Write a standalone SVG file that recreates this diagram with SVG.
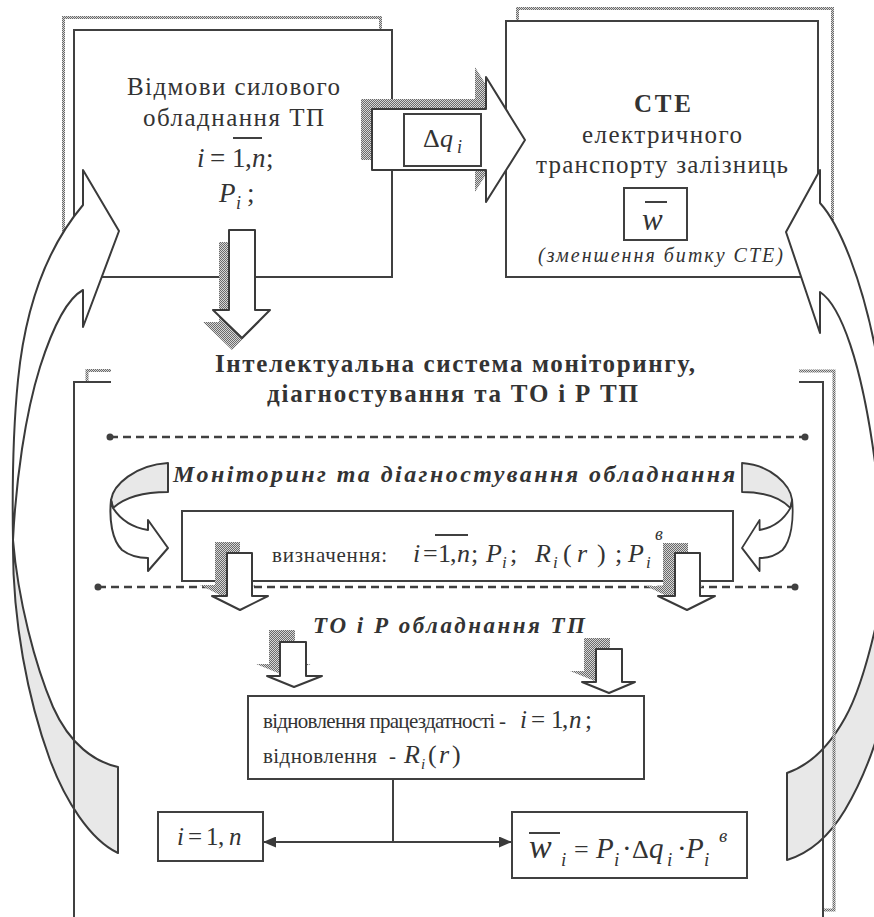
<svg xmlns="http://www.w3.org/2000/svg" width="874" height="917" viewBox="0 0 874 917" font-family="'Liberation Serif', 'Times New Roman', serif">
<defs>
<pattern id="dots" width="2" height="2" patternUnits="userSpaceOnUse">
<rect width="2" height="2" fill="#d6d6d6"/>
<rect width="1" height="1" fill="#6a6a6a"/>
<rect x="1" y="1" width="1" height="1" fill="#6a6a6a"/>
</pattern>
<marker id="ah" viewBox="0 0 13 11" refX="13" refY="5.5" markerWidth="13" markerHeight="11" markerUnits="userSpaceOnUse" orient="auto-start-reverse">
<path d="M0,0 L13,5.5 L0,11 Z" fill="#3a3a3a"/>
</marker>
</defs>
<style>
.ln{fill:none;stroke:#404040;stroke-width:2}
.box{fill:#fff;stroke:#404040;stroke-width:2}
.wa{fill:#fff;stroke:#3a3a3a;stroke-width:2;stroke-linejoin:round}
.ga{fill:#e8e8e8;stroke:#3a3a3a;stroke-width:2;stroke-linejoin:round}
.sh{fill:url(#dots);stroke:none}
.shl{fill:none;stroke:url(#dots);stroke-width:3}
.t{fill:#333}
.i{font-style:italic}
.b{font-weight:bold}
.dash{stroke:#404040;stroke-width:2.5;stroke-dasharray:8 5;fill:none}
.dot{fill:#404040}
</style>

<g id="node-failures">
<rect class="shl" x="63.5" y="17.5" width="317" height="250"/>
<rect class="box" x="74" y="30" width="318" height="247"/>
<text class="t" x="127" y="95" font-size="25" textLength="213">Відмови силового</text>
<text class="t" x="143" y="126" font-size="25" textLength="181">обладнання ТП</text>
<text class="t" y="167" font-size="27"><tspan class="i" x="197">i</tspan><tspan x="210">=</tspan><tspan x="232">1</tspan><tspan x="245">,</tspan><tspan class="i" x="252">n</tspan><tspan x="266">;</tspan></text>
<line class="ln" x1="233" y1="138" x2="262" y2="138"/>
<text class="t" y="202" font-size="27"><tspan class="i" x="219">P</tspan><tspan class="i" x="236" y="209" font-size="18">i</tspan><tspan x="247" y="202">;</tspan></text>
</g>

<g id="node-cte">
<rect class="shl" x="517.5" y="8.5" width="315" height="257"/>
<rect class="box" x="506" y="21" width="312" height="256"/>
<text class="t b" x="634" y="112" font-size="25" textLength="57">СТЕ</text>
<text class="t" x="582" y="143" font-size="25" textLength="160">електричного</text>
<text class="t" x="536" y="173" font-size="25" textLength="252">транспорту залізниць</text>
<rect class="box" x="624" y="188" width="63" height="52"/>
<text class="t i" x="642" y="230" font-size="31">w</text>
<line class="ln" x1="645" y1="202" x2="667" y2="202"/>
<text class="t i" x="538" y="262" font-size="20" textLength="245">(зменшення битку СТЕ)</text>
</g>

<g id="arrow-left-big">
<path class="ga" d="M13,540 C12,620 28,700 50,760 C65,800 90,840 118,853 L118,767 C95,762 70,745 53,707 C35,665 18,600 13,540 Z"/>
<path class="wa" d="M83,205 L83,170 L119,231 L83,327 L83,290 C70,297 55,320 40,367 C25,415 16,480 13,540 C12,480 13,430 18,380 C25,310 45,250 83,205 Z"/>
</g>
<g id="arrow-right-big">
<path class="ga" d="M876,625 C868,660 858,695 845,718 C830,745 810,765 787,773 L787,860 C810,853 830,835 845,810 C858,788 868,765 876,740 L900,740 L900,625 Z"/>
<path class="wa" d="M820,203 L820,170 L786,232 L820,333 L820,292 C840,305 862,360 876,470 L905,470 L905,360 L876,352 C862,280 840,225 820,203 Z"/>
</g>

<g id="node-dq">
<path class="sh" transform="translate(-11,-10)" d="M372,109 L486,109 L486,77 L525,140 L486,202 L486,170 L372,170 Z"/>
<path class="wa" d="M372,109 L486,109 L486,77 L525,140 L486,202 L486,170 L372,170 Z"/>
<rect class="box" x="404" y="114" width="77" height="52"/>
<text class="t" y="147" font-size="26"><tspan x="423">Δ</tspan><tspan class="i" x="440">q</tspan><tspan class="i" x="457" y="153" font-size="18">i</tspan></text>
</g>

<g id="frame">
<path class="shl" d="M87,382 V370.5 H111"/>
<path class="shl" d="M799,371 H834 V910 H823"/>
<path class="ln" d="M111,382 H74 V920"/>
<path class="ln" d="M799,382 H823 V920"/>
</g>

<g id="connectors">
<path class="sh" transform="translate(-10,12)" d="M229,230 L255,230 L255,310 L270,310 L242,338 L213,310 L229,310 Z"/>
<path class="wa" d="M229,230 L255,230 L255,310 L270,310 L242,338 L213,310 L229,310 Z"/>
<line class="dash" x1="110" y1="437" x2="805" y2="437"/>
<circle class="dot" cx="110" cy="437" r="3.5"/>
<circle class="dot" cx="805" cy="437" r="3.5"/>
<line class="dash" x1="98" y1="587" x2="795" y2="587"/>
<circle class="dot" cx="98" cy="587" r="3.5"/>
<circle class="dot" cx="795" cy="587" r="3.5"/>
</g>

<g id="title">
<text class="t b" x="215" y="372" font-size="25" textLength="480">Інтелектуальна система моніторингу,</text>
<text class="t b" x="267" y="402" font-size="25" textLength="371">діагностування та ТО і Р  ТП</text>
</g>

<g id="curl-left">
<path class="ga" d="M168,463 L168,492 C145,492 125,497 113,508 L111,500 C113,485 135,465 168,463 Z"/>
<path class="wa" d="M111,500 C109,520 112,540 122,550 C130,556 140,558 148,558 L148,571 L168,548 L148,520 L148,530 C135,528 122,522 113,508 Z"/>
</g>
<g id="curl-right" transform="matrix(-0.88,0,0,1,889.84,0)">
<path class="ga" d="M168,463 L168,492 C145,492 125,497 113,508 L111,500 C113,485 135,465 168,463 Z"/>
<path class="wa" d="M111,500 C109,520 112,540 122,550 C130,556 140,558 148,558 L148,571 L168,548 L148,520 L148,530 C135,528 122,522 113,508 Z"/>
</g>

<g id="monitoring">
<text class="t b i" x="173" y="482" font-size="24" textLength="562">Моніторинг  та  діагностування обладнання</text>
</g>

<g id="node-define">
<rect class="box" x="182" y="511" width="551" height="70"/>
<text class="t" x="272" y="562" font-size="21" textLength="115">визначення:</text>
<text class="t" y="562" font-size="26"><tspan class="i" x="413">i</tspan><tspan x="423">=</tspan><tspan x="438">1</tspan><tspan x="450">,</tspan><tspan class="i" x="457">n</tspan><tspan x="471">;</tspan><tspan class="i" x="486">P</tspan><tspan class="i" x="502" y="568" font-size="17">i</tspan><tspan x="510" y="562">;</tspan><tspan class="i" x="535">R</tspan><tspan class="i" x="553" y="568" font-size="17">i</tspan><tspan x="563" y="562">(</tspan><tspan class="i" x="577">r</tspan><tspan x="597">)</tspan><tspan x="615">;</tspan><tspan class="i" x="628">P</tspan><tspan class="i" x="646" y="568" font-size="17">i</tspan><tspan class="i" x="655" y="540" font-size="18">в</tspan></text>
<line class="ln" x1="435" y1="535" x2="468" y2="535"/>
</g>

<g id="small-arrows">
<path class="sh" transform="translate(-12,-11)" d="M227,553 L252,553 L252,596 L268,596 L240,610 L212,596 L227,596 Z"/>
<path class="wa" d="M227,553 L252,553 L252,596 L268,596 L240,610 L212,596 L227,596 Z"/>
<path class="sh" transform="translate(-12,-10)" d="M675,553 L700,553 L700,596 L715,596 L687,610 L658,596 L675,596 Z"/>
<path class="wa" d="M675,553 L700,553 L700,596 L715,596 L687,610 L658,596 L675,596 Z"/>
</g>

<g id="repair-title">
<text class="t b i" x="313" y="633" font-size="23" textLength="272">ТО і Р обладнання ТП</text>
</g>

<g id="repair-arrows">
<path class="sh" transform="translate(-11,-12)" d="M280,642 L306,642 L306,676 L322,676 L294,687 L267,676 L280,676 Z"/>
<path class="wa" d="M280,642 L306,642 L306,676 L322,676 L294,687 L267,676 L280,676 Z"/>
<path class="sh" transform="translate(-12,-11)" d="M596,649 L622,649 L622,682 L635,682 L609,693 L582,682 L596,682 Z"/>
<path class="wa" d="M596,649 L622,649 L622,682 L635,682 L609,693 L582,682 L596,682 Z"/>
</g>

<g id="node-restore">
<rect class="box" x="248" y="696" width="396" height="83"/>
<text class="t" x="263" y="728" font-size="21" textLength="243">відновлення працездатності -</text>
<text class="t" y="728" font-size="25"><tspan class="i" x="520">i</tspan><tspan x="531">=</tspan><tspan x="551">1</tspan><tspan x="562">,</tspan><tspan class="i" x="569">n</tspan><tspan x="585">;</tspan></text>
<text class="t" x="263" y="763" font-size="21" textLength="114">відновлення</text>
<text class="t" x="389" y="763" font-size="21">-</text>
<text class="t" y="763" font-size="26"><tspan class="i" x="404">R</tspan><tspan class="i" x="421" y="769" font-size="15">i</tspan><tspan x="428" y="763">(</tspan><tspan class="i" x="439">r</tspan><tspan x="452">)</tspan></text>
</g>

<g id="links">
<line class="ln" x1="393" y1="779" x2="393" y2="842" stroke-width="1.6"/>
<line class="ln" x1="263" y1="842" x2="512" y2="842" stroke-width="2.5" marker-start="url(#ah)" marker-end="url(#ah)"/>
</g>

<g id="node-i">
<rect class="box" x="158" y="812" width="105" height="49"/>
<text class="t" y="845" font-size="25"><tspan class="i" x="177">i</tspan><tspan x="188">=</tspan><tspan x="206">1</tspan><tspan x="218">,</tspan><tspan class="i" x="229">n</tspan></text>
</g>

<g id="node-w">
<rect class="box" x="512" y="812" width="235" height="66"/>
<text class="t" y="858" font-size="29"><tspan class="i" x="529" font-size="34">w</tspan><tspan class="i" x="561" y="866" font-size="19">i</tspan><tspan x="574" y="858" font-size="26">=</tspan><tspan class="i" x="596">P</tspan><tspan class="i" x="614" y="866" font-size="19">i</tspan><tspan x="622" y="858">·</tspan><tspan x="632" font-size="26">Δ</tspan><tspan class="i" x="649">q</tspan><tspan class="i" x="667" y="866" font-size="19">i</tspan><tspan x="677" y="858">·</tspan><tspan class="i" x="686">P</tspan><tspan class="i" x="704" y="866" font-size="19">i</tspan><tspan class="i" x="719" y="842" font-size="19">в</tspan></text>
<line class="ln" x1="529" y1="833" x2="560" y2="833"/>
</g>
</svg>
